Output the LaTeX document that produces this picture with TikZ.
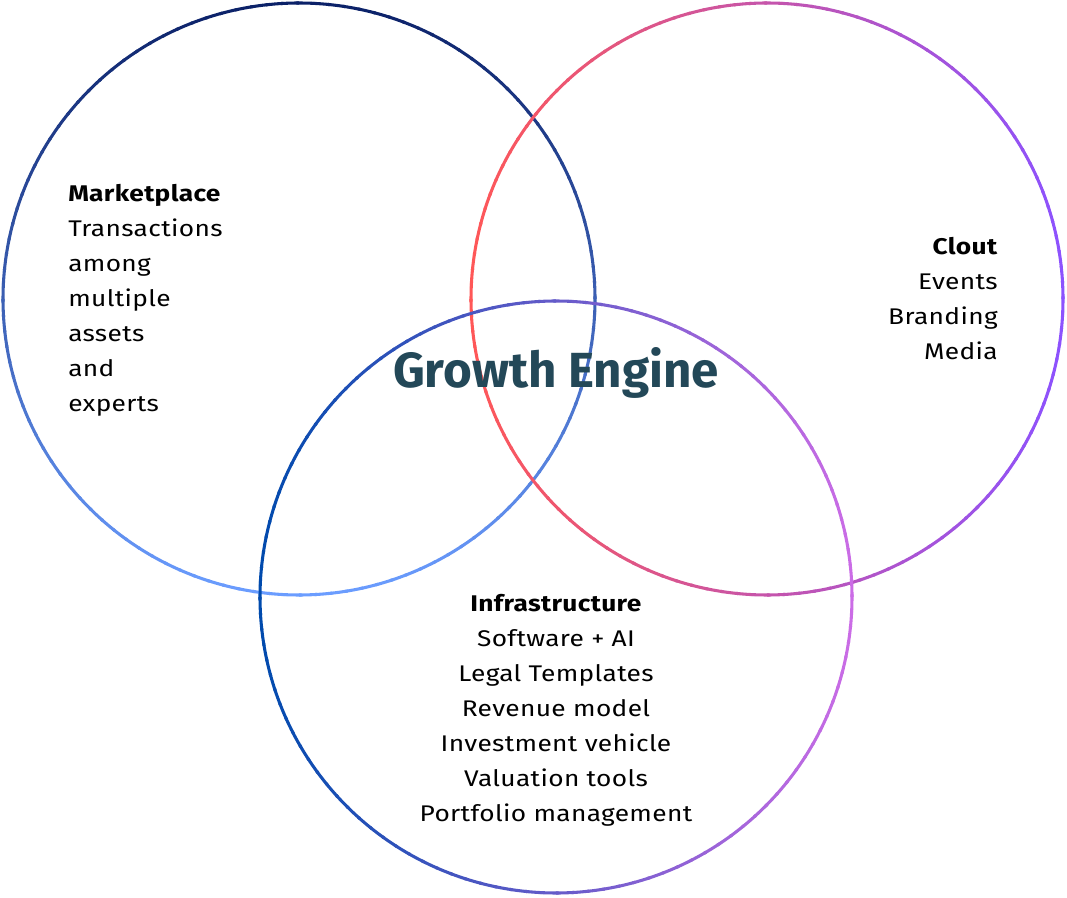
\documentclass[tikz,border=0pt]{standalone}
\usepackage{fontspec}
\setmainfont{Fira Sans}[FakeStretch=1.16, LetterSpace=1.5]
\newfontfamily\titlefont{Fira Sans}
\usetikzlibrary{calc,positioning}
\definecolor{marketdark}{RGB}{11,33,104}
\definecolor{marketlight}{RGB}{107,157,255}
\definecolor{cloutred}{RGB}{255,87,87}
\definecolor{cloutpurple}{RGB}{140,82,255}
\definecolor{infrablue}{RGB}{0,74,173}
\definecolor{infralilac}{RGB}{203,108,230}
\definecolor{titlecolor}{RGB}{35,72,88}

\begin{document}
\begin{tikzpicture}[
    x=0.75pt, y=0.75pt,
    ring/.style={line width=2.3pt},
    listtext/.style={inner sep=0pt, font=\fontsize{17}{26.25}\selectfont},
    titletext/.style={inner sep=0pt, text=titlecolor, font=\titlefont\fontsize{37}{42}\selectfont\bfseries}
]
\useasboundingbox (0,0) rectangle (1067,897);

% Circle centres
\coordinate (mcentre) at (299,598);
\coordinate (ccentre) at (767,598);
\coordinate (icentre) at (556,300);

% Marketplace ring (dark top, light bottom)
\foreach \a in {0,3,...,357}{
    \pgfmathsetmacro{\mix}{50*(1+sin(\a+1.5))}
    \draw[ring, marketdark!\mix!marketlight] ($(mcentre)+(\a:296)$) arc[start angle=\a, end angle=\a+3.5, radius=296];
}

% Clout ring (red left, purple right)
\foreach \a in {0,3,...,357}{
    \pgfmathsetmacro{\mix}{50*(1+cos(\a+1.5))}
    \draw[ring, cloutpurple!\mix!cloutred] ($(ccentre)+(\a:296)$) arc[start angle=\a, end angle=\a+3.5, radius=296];
}

% Infrastructure ring (blue left, lilac right)
\foreach \a in {0,3,...,357}{
    \pgfmathsetmacro{\mix}{50*(1+cos(\a+1.5))}
    \draw[ring, infralilac!\mix!infrablue] ($(icentre)+(\a:296)$) arc[start angle=\a, end angle=\a+3.5, radius=296];
}

% Labels
\node[titletext] (engine) at (556,524) {Growth Engine};

\node[listtext, align=left, anchor=north west] (market) at (68,713)
    {\textbf{Marketplace}\\Transactions\\among\\multiple\\assets\\and\\experts};

\node[listtext, align=right, anchor=north east] (clout) at (998,660)
    {\textbf{Clout}\\Events\\Branding\\Media};

\node[listtext, align=center, anchor=north] (infra) at (556,303)
    {\textbf{Infrastructure}\\Software + AI\\Legal Templates\\Revenue model\\Investment vehicle\\Valuation tools\\Portfolio management};

\end{tikzpicture}
\end{document}
